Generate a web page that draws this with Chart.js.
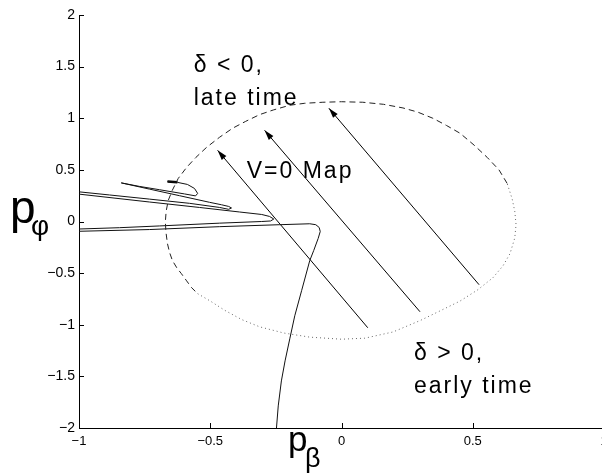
<!DOCTYPE html>
<html>
<head>
<meta charset="utf-8">
<script src="https://cdn.jsdelivr.net/npm/chart.js@4.4.0/dist/chart.umd.min.js"></script>
<style>
  html, body { margin: 0; padding: 0; background: #fff; width: 602px; height: 475px; overflow: hidden; }
  canvas { display: block; }
</style>
</head>
<body>
<canvas id="phase" width="640" height="475"></canvas>
<script>
// tick labels
const x_ticks = [-1, -0.5, 0, 0.5, 1];
const y_ticks = [-2, -1.5, -1, -0.5, 0, 0.5, 1, 1.5, 2];

// trajectory (p_beta, p_phi)
const trajectory = [
  [-0.663, 0.388], [-0.625, 0.379], [-0.587, 0.359], [-0.560, 0.320], [-0.548, 0.272],
  [-0.556, 0.248], [-0.598, 0.267], [-0.694, 0.308], [-0.770, 0.340], [-0.839, 0.374],
  [-0.732, 0.314], [-0.617, 0.250], [-0.503, 0.186], [-0.457, 0.162], [-0.430, 0.146],
  [-0.419, 0.131], [-0.430, 0.118], [-0.464, 0.136], [-0.579, 0.176], [-0.732, 0.217],
  [-0.884, 0.257], [-1.003, 0.288], [-1.075, 0.308],
  [-1.075, 0.283], [-1.003, 0.266], [-0.732, 0.189], [-0.541, 0.136], [-0.388, 0.092],
  [-0.304, 0.068], [-0.274, 0.049], [-0.258, 0.024], [-0.270, 0.005], [-0.304, 0.000],
  [-0.464, -0.016], [-0.694, -0.043], [-0.846, -0.060], [-1.003, -0.073], [-1.075, -0.080],
  [-1.075, -0.099], [-1.003, -0.095], [-0.732, -0.078], [-0.464, -0.050], [-0.235, -0.031],
  [-0.121, -0.022], [-0.098, -0.031], [-0.085, -0.058], [-0.081, -0.097], [-0.089, -0.165],
  [-0.106, -0.282], [-0.121, -0.379], [-0.152, -0.670], [-0.178, -0.913], [-0.197, -1.136],
  [-0.215, -1.350], [-0.229, -1.544], [-0.241, -1.786], [-0.248, -2.010], [-0.251, -2.087]
];

// short heavy piece at the start of the trajectory
const start_mark = [[-0.663, 0.388], [-0.625, 0.379]];

// V=0 boundary, dashed part (upper left) and dotted part (lower right)
const boundary_dashed = [
  [0.631, 0.369], [0.600, 0.500], [0.555, 0.621], [0.505, 0.740], [0.452, 0.854],
  [0.400, 0.930], [0.348, 1.000], [0.290, 1.060], [0.234, 1.100], [0.160, 1.135],
  [0.081, 1.155], [0.000, 1.160], [-0.071, 1.155], [-0.140, 1.145], [-0.197, 1.126],
  [-0.260, 1.080], [-0.312, 1.035], [-0.365, 0.970], [-0.415, 0.903], [-0.465, 0.815],
  [-0.514, 0.718], [-0.555, 0.620], [-0.590, 0.524], [-0.622, 0.417], [-0.645, 0.300],
  [-0.660, 0.204], [-0.668, 0.100], [-0.671, 0.000], [-0.669, -0.100], [-0.663, -0.214],
  [-0.655, -0.300], [-0.644, -0.379], [-0.627, -0.450], [-0.610, -0.505], [-0.590, -0.575],
  [-0.571, -0.641], [-0.548, -0.699]
];
const boundary_dotted = [
  [-0.548, -0.699], [-0.500, -0.770], [-0.445, -0.860], [-0.380, -0.950], [-0.312, -1.020],
  [-0.220, -1.080], [-0.121, -1.120], [0.000, -1.140], [0.089, -1.130], [0.196, -1.070],
  [0.299, -0.960], [0.380, -0.860], [0.452, -0.770], [0.520, -0.660], [0.577, -0.544],
  [0.615, -0.430], [0.642, -0.311], [0.660, -0.160], [0.665, -0.030], [0.660, 0.100],
  [0.650, 0.220], [0.631, 0.369]
];

// map arrows: tail -> head
const arrow_tails = [[0.100, -1.029], [0.299, -0.874], [0.524, -0.612]];
const arrow_heads = [[-0.472, 0.689], [-0.293, 0.883], [-0.048, 1.097]];

// annotations (text, p_beta, p_phi of baseline start)
const notes = [
  ['\u03b4 < 0,', -0.563, 1.447],
  ['late time', -0.563, 1.126],
  ['V=0 Map', -0.361, 0.417],
  ['\u03b4 > 0,', 0.276, -1.340],
  ['early time', 0.276, -1.660]
];

const pts = arr => arr.map(p => ({x: p[0], y: p[1]}));
const minus = v => String(v).replace('-', '\u2212');

function lineSet(data, extra) {
  return Object.assign({
    data: pts(data), showLine: true, pointRadius: 0, borderColor: '#111',
    borderWidth: 1, tension: 0, fill: false
  }, extra);
}

const datasets = [
  lineSet(boundary_dashed, {borderDash: [6, 4], borderColor: '#222'}),
  lineSet(boundary_dotted, {borderDash: [1, 3], borderColor: '#666'}),
  lineSet(trajectory, {}),
  lineSet(start_mark, {borderWidth: 2.5, borderColor: '#000'})
];
arrow_tails.forEach((t, i) => datasets.push(lineSet([t, arrow_heads[i]], {borderColor: '#000'})));

const overlay = {
  id: 'overlay',
  afterDraw(chart) {
    const {ctx, chartArea} = chart;
    const sx = chart.scales.x, sy = chart.scales.y;
    ctx.save();

    // inward tick marks
    ctx.strokeStyle = '#000';
    ctx.lineWidth = 1;
    x_ticks.forEach(v => {
      const px = Math.round(sx.getPixelForValue(v)) + 0.5;
      ctx.beginPath();
      ctx.moveTo(px, chartArea.bottom);
      ctx.lineTo(px, chartArea.bottom - 5);
      ctx.stroke();
    });
    y_ticks.forEach(v => {
      const py = Math.round(sy.getPixelForValue(v)) + 0.5;
      ctx.beginPath();
      ctx.moveTo(chartArea.left, py);
      ctx.lineTo(chartArea.left + 5, py);
      ctx.stroke();
    });

    // arrowheads
    ctx.fillStyle = '#000';
    arrow_heads.forEach((h, i) => {
      const hx = sx.getPixelForValue(h[0]), hy = sy.getPixelForValue(h[1]);
      const tx = sx.getPixelForValue(arrow_tails[i][0]), ty = sy.getPixelForValue(arrow_tails[i][1]);
      const a = Math.atan2(hy - ty, hx - tx);
      const len = 10, half = 3;
      ctx.beginPath();
      ctx.moveTo(hx, hy);
      ctx.lineTo(hx - len * Math.cos(a) + half * Math.sin(a), hy - len * Math.sin(a) - half * Math.cos(a));
      ctx.lineTo(hx - len * Math.cos(a) - half * Math.sin(a), hy - len * Math.sin(a) + half * Math.cos(a));
      ctx.closePath();
      ctx.fill();
    });

    // annotations
    ctx.font = '23px "Liberation Sans", Arial, sans-serif';
    ctx.textBaseline = 'alphabetic';
    ctx.textAlign = 'left';
    ctx.letterSpacing = '2px';
    notes.forEach(n => ctx.fillText(n[0], sx.getPixelForValue(n[1]), sy.getPixelForValue(n[2])));
    ctx.letterSpacing = '0px';

    // axis titles with subscripts
    ctx.font = '46px "Liberation Sans", Arial, sans-serif';
    ctx.fillText('p', chartArea.left - 69, sy.getPixelForValue(0) + 1);
    ctx.font = '28px "Liberation Sans", Arial, sans-serif';
    ctx.fillText('\u03c6', chartArea.left - 48, sy.getPixelForValue(0) + 13);

    ctx.font = '35px "Liberation Sans", Arial, sans-serif';
    ctx.fillText('p', sx.getPixelForValue(-0.2) - 1, chartArea.bottom + 23);
    ctx.font = '27px "Liberation Sans", Arial, sans-serif';
    ctx.fillText('\u03b2', sx.getPixelForValue(-0.2) + 16, chartArea.bottom + 39);

    ctx.restore();
  }
};

Chart.defaults.font.family = '"Liberation Sans", Arial, sans-serif';
Chart.defaults.color = '#000';

new Chart(document.getElementById('phase'), {
  type: 'scatter',
  data: {datasets: datasets},
  options: {
    responsive: false,
    animation: false,
    events: [],
    layout: {padding: {top: 15, right: 36, left: 0, bottom: 0}},
    plugins: {legend: {display: false}, tooltip: {enabled: false}},
    scales: {
      x: {
        type: 'linear', min: -1, max: 1,
        afterBuildTicks: s => { s.ticks = x_ticks.map(v => ({value: v})); },
        afterFit: s => { s.height = 47; },
        grid: {display: false, drawTicks: false},
        border: {display: true, color: '#000', width: 1},
        ticks: {padding: 6, font: {size: 13}, callback: v => minus(v), maxRotation: 0, autoSkip: false}
      },
      y: {
        type: 'linear', min: -2, max: 2,
        afterBuildTicks: s => { s.ticks = y_ticks.map(v => ({value: v})); },
        afterFit: s => { s.width = 79; },
        grid: {display: false, drawTicks: false},
        border: {display: true, color: '#000', width: 1},
        ticks: {padding: 4, font: {size: 14}, callback: v => minus(v), autoSkip: false}
      }
    }
  },
  plugins: [overlay]
});
</script>
</body>
</html>
